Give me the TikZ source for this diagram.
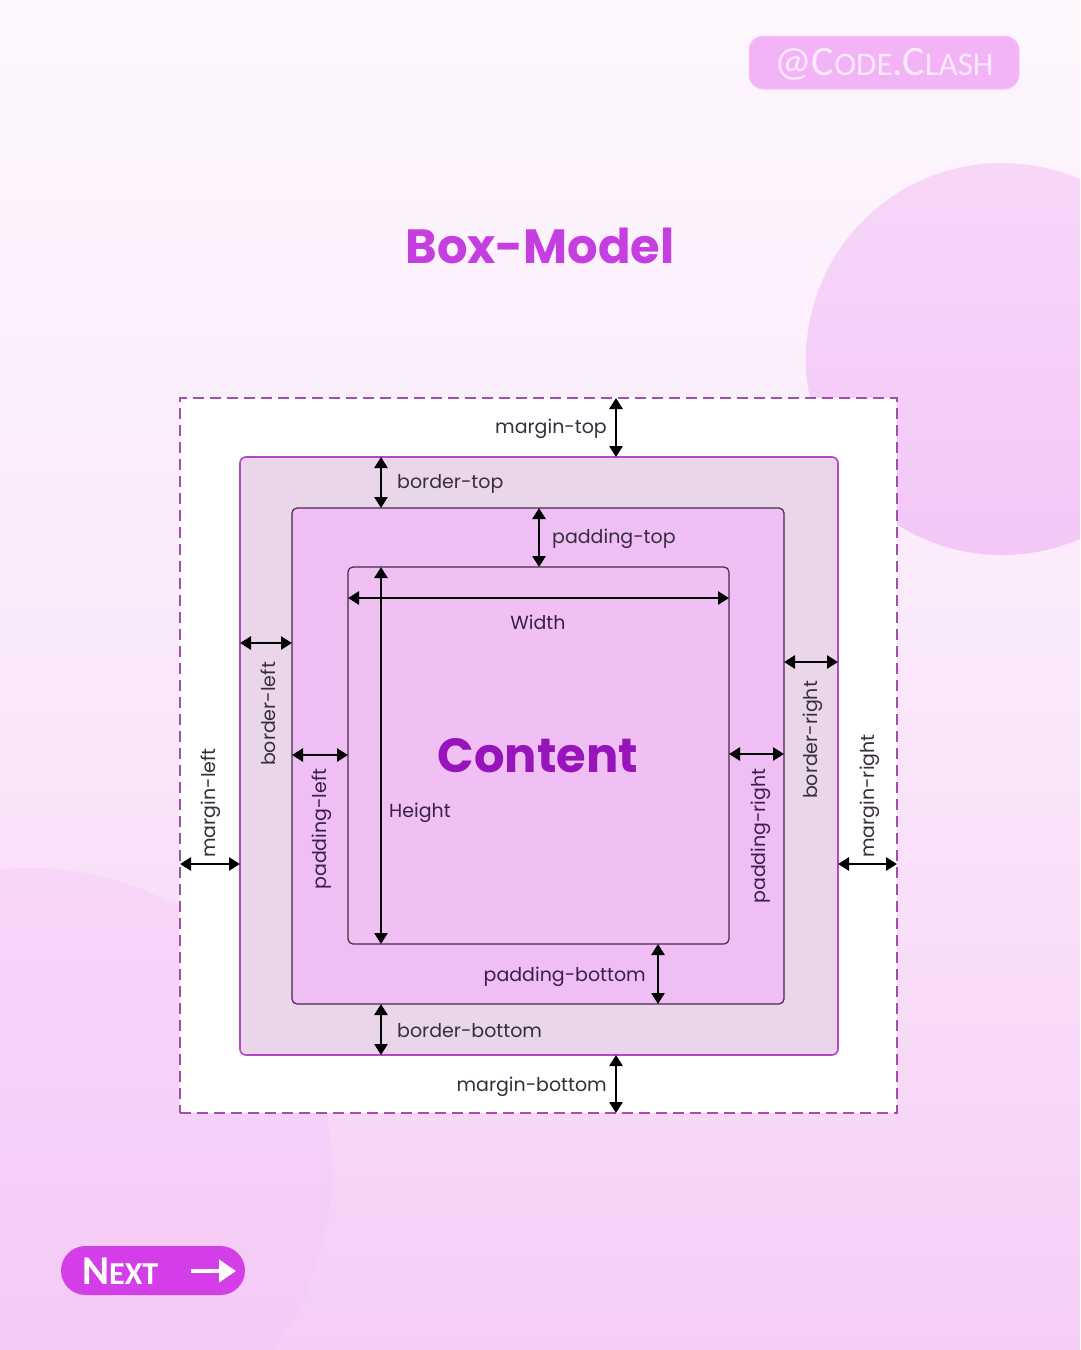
\documentclass[tikz,border=0pt]{standalone}
\usepackage{fontspec}
\setmainfont{Poppins}
\newfontfamily\handfont{Carlito}
\usetikzlibrary{arrows.meta,shadings}
\definecolor{bgtop}{RGB}{253,247,253}
\definecolor{bgmid}{RGB}{250,232,250}
\definecolor{bgbot}{RGB}{245,206,245}
\definecolor{dashcol}{RGB}{160,80,170}
\definecolor{borderfill}{RGB}{234,214,234}
\definecolor{borderline}{RGB}{180,70,200}
\definecolor{padfill}{RGB}{238,190,245}
\definecolor{boxline}{RGB}{70,40,70}
\definecolor{contfill}{RGB}{240,192,245}
\definecolor{labcol}{RGB}{55,45,60}
\definecolor{innerlab}{RGB}{60,30,75}
\definecolor{titlecol}{RGB}{196,62,224}
\definecolor{contentcol}{RGB}{150,20,185}
\definecolor{handfill}{RGB}{242,180,247}
\definecolor{handtext}{RGB}{252,232,253}
\definecolor{nextfill}{RGB}{212,62,232}
\definecolor{circtop}{RGB}{247,215,248}
\definecolor{circbot}{RGB}{243,199,247}
\tikzset{
  dim/.style={line width=2.6pt,black,{Triangle[length=11pt,width=13pt]}-{Triangle[length=11pt,width=13pt]}},
  lab/.style={font=\fontsize{19}{19}\selectfont,text=labcol,inner sep=0pt},
  ilab/.style={font=\fontsize{19}{19}\selectfont,text=innerlab,inner sep=0pt},
}
\begin{document}
\begin{tikzpicture}[x=1pt,y=-1pt]
\useasboundingbox (0,0) rectangle (1080,1350);
% background
\shade[top color=bgtop,bottom color=bgbot,middle color=bgmid] (0,0) rectangle (1080,1350);
\begin{scope}
\clip (0,0) rectangle (1080,1350);
\shade[top color=circtop,bottom color=circbot] (1002,359) circle (196);
\shade[top color=circtop,bottom color=circbot] (30,1170) circle (302);
\end{scope}
% handle
\node[fill=handfill,draw={rgb,255:red,246;green,200;blue,250},line width=1pt,rounded corners=14pt,minimum width=270pt,minimum height=53pt,inner sep=0pt] (handle) at (884,62.5) {};
\node[text=handtext,inner sep=0pt] (handletext) at (884,64) {\handfont\fontsize{42}{42}\selectfont @C{\fontsize{33}{33}\selectfont ODE}.C{\fontsize{33}{33}\selectfont LASH}};
% title
\node[text=titlecol,font=\fontsize{48}{48}\selectfont\bfseries,inner sep=0pt] (title) at (540,246) {Box-Model};
% boxes
\node[draw=dashcol,dashed,dash pattern=on 11pt off 6pt,line width=1.6pt,fill=white,minimum width=717pt,minimum height=715pt,inner sep=0pt] (margin) at (538.5,755.5) {};
\node[draw=borderline,line width=1.6pt,fill=borderfill,rounded corners=6pt,minimum width=598pt,minimum height=598pt,inner sep=0pt] (border) at (539,756) {};
\node[draw=boxline,line width=1.2pt,fill=padfill,rounded corners=5pt,minimum width=492pt,minimum height=496pt,inner sep=0pt] (padding) at (538,756) {};
\node[draw=boxline,line width=1.2pt,fill=contfill,rounded corners=5pt,minimum width=381pt,minimum height=377pt,inner sep=0pt] (content) at (538.5,755.5) {};
% coordinates for dimension arrows
\coordinate (mt1) at (616,398); \coordinate (mt2) at (616,457);
\coordinate (bt1) at (381,457); \coordinate (bt2) at (381,508);
\coordinate (pt1) at (539,508); \coordinate (pt2) at (539,567);
\coordinate (w1) at (348,598);  \coordinate (w2) at (729,598);
\coordinate (h1) at (381,567);  \coordinate (h2) at (381,944);
\coordinate (bl1) at (240,643); \coordinate (bl2) at (292,643);
\coordinate (pl1) at (292,755); \coordinate (pl2) at (348,755);
\coordinate (ml1) at (180,864); \coordinate (ml2) at (240,864);
\coordinate (pr1) at (729,754); \coordinate (pr2) at (784,754);
\coordinate (br1) at (784,662); \coordinate (br2) at (838,662);
\coordinate (mr1) at (838,864); \coordinate (mr2) at (897,864);
\coordinate (pb1) at (658,944); \coordinate (pb2) at (658,1004);
\coordinate (bb1) at (381,1004); \coordinate (bb2) at (381,1055);
\coordinate (mb1) at (616,1055); \coordinate (mb2) at (616,1113);
\foreach \a/\b in {mt1/mt2,bt1/bt2,pt1/pt2,w1/w2,h1/h2,bl1/bl2,pl1/pl2,ml1/ml2,pr1/pr2,br1/br2,mr1/mr2,pb1/pb2,bb1/bb2,mb1/mb2}
  \draw[dim] (\a) -- (\b);
% labels
\node[lab,anchor=east] (lmt) at (607,429) {margin-top};
\node[lab,anchor=west] (lbt) at (397,484) {border-top};
\node[lab,anchor=west] (lpt) at (552,539) {padding-top};
\node[ilab] (lw) at (538,622) {Width};
\node[ilab,anchor=west] (lh) at (389,813) {Height};
\node[lab,rotate=90] (lbl) at (268,714) {border-left};
\node[ilab,rotate=90] (lpl) at (322,829) {padding-left};
\node[lab,rotate=90] (lml) at (211,803) {margin-left};
\node[ilab,rotate=90] (lpr) at (761,836) {padding-right};
\node[lab,rotate=90] (lbr) at (813,740) {border-right};
\node[lab,rotate=90] (lmr) at (870,796) {margin-right};
\node[ilab,anchor=east] (lpb) at (646,977) {padding-bottom};
\node[lab,anchor=west] (lbb) at (397,1031) {border-bottom};
\node[lab,anchor=east] (lmb) at (607,1087) {margin-bottom};
\node[text=contentcol,font=\fontsize{48}{48}\selectfont\bfseries,inner sep=0pt] (ctext) at (538,756) {Content};
% next button
\node[fill=nextfill,rounded corners=24.5pt,minimum width=184pt,minimum height=49pt,inner sep=0pt] (next) at (153,1270.5) {};
\node[text=white,inner sep=0pt,anchor=west] (nexttext) at (82,1271) {\handfont\bfseries\fontsize{41}{41}\selectfont N{\fontsize{32}{32}\selectfont EXT}};
\coordinate (na1) at (191,1271); \coordinate (na2) at (236,1271);
\draw[white,line width=4.5pt,-{Triangle[length=17pt,width=22pt]}] (na1) -- (na2);
\end{tikzpicture}
\end{document}
